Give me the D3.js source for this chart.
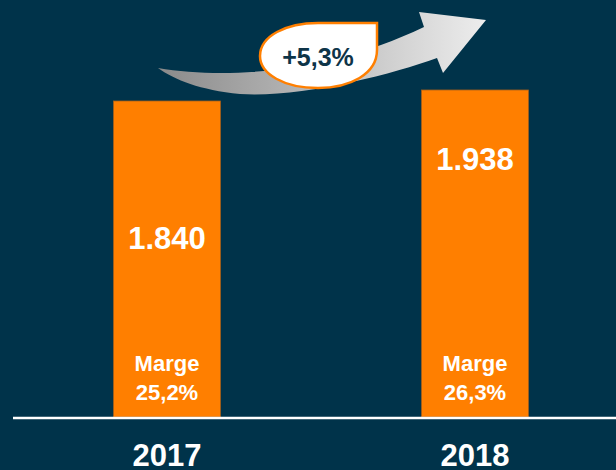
<!DOCTYPE html>
<html>
<head>
<meta charset="utf-8">
<script src="https://cdn.jsdelivr.net/npm/d3@7"></script>
<style>
  html, body { margin: 0; padding: 0; background: #00334a; }
  svg { display: block; }
  text { font-family: "Liberation Sans", Arial, sans-serif; font-weight: bold; }
</style>
</head>
<body>
<script>
var years = ["2017", "2018"];
var values = [1840, 1938];
var valueLabels = ["1.840", "1.938"];
var margins = ["25,2%", "26,3%"];
var growthLabel = "+5,3%";

var width = 616,
    height = 470,
    baseY = 417;

var orange = "#ff7f00";

var svg = d3.select("body").append("svg")
    .attr("width", width)
    .attr("height", height);

var defs = svg.append("defs");
var grad = defs.append("linearGradient")
    .attr("id", "arrowGrad")
    .attr("x1", "0%").attr("x2", "100%")
    .attr("y1", "0%").attr("y2", "0%");
grad.append("stop").attr("offset", "0%").attr("stop-color", "#8a8a8a");
grad.append("stop").attr("offset", "100%").attr("stop-color", "#ededed");

var x = d3.scaleBand()
    .domain(years)
    .range([13, 629])
    .paddingInner(0.653)
    .paddingOuter(0.3265);

// value axis of the original does not start at zero
var y = d3.scaleLinear()
    .domain([-975, 1938])
    .range([baseY, 90]);

// bars
svg.selectAll("rect.bar")
  .data(values)
  .enter().append("rect")
    .attr("class", "bar")
    .attr("x", function(d, i) { return x(years[i]); })
    .attr("y", function(d) { return y(d); })
    .attr("width", x.bandwidth())
    .attr("height", function(d) { return baseY - y(d); })
    .attr("fill", orange)
    .attr("stroke", "#a65f1a")
    .attr("stroke-width", 0.8);

// baseline
svg.append("line")
    .attr("x1", 13).attr("x2", width)
    .attr("y1", baseY + 1).attr("y2", baseY + 1)
    .attr("stroke", "#ffffff")
    .attr("stroke-width", 2.5);

var cx = function(i) { return x(years[i]) + x.bandwidth() / 2; };
var valueY = [249, 170];

svg.selectAll("text.val")
  .data(valueLabels)
  .enter().append("text")
    .attr("class", "val")
    .attr("x", function(d, i) { return cx(i); })
    .attr("y", function(d, i) { return valueY[i]; })
    .attr("text-anchor", "middle")
    .attr("fill", "#ffffff")
    .attr("font-size", 31)
    .text(function(d) { return d; });

svg.selectAll("text.marge")
  .data(margins)
  .enter().append("text")
    .attr("class", "marge")
    .attr("x", function(d, i) { return cx(i); })
    .attr("y", 371)
    .attr("text-anchor", "middle")
    .attr("fill", "#ffffff")
    .attr("font-size", 22)
    .text("Marge");

svg.selectAll("text.pct")
  .data(margins)
  .enter().append("text")
    .attr("class", "pct")
    .attr("x", function(d, i) { return cx(i); })
    .attr("y", 400)
    .attr("text-anchor", "middle")
    .attr("fill", "#ffffff")
    .attr("font-size", 22)
    .text(function(d) { return d; });

svg.selectAll("text.year")
  .data(years)
  .enter().append("text")
    .attr("class", "year")
    .attr("x", function(d, i) { return cx(i); })
    .attr("y", 466)
    .attr("text-anchor", "middle")
    .attr("fill", "#ffffff")
    .attr("font-size", 31)
    .text(function(d) { return d; });

// growth arrow
svg.append("path")
    .attr("d", "M158,68 C230,80 330,72 424,27 L419,12 L486,20 L443,73 L437,58 " +
               "C390,75 300,98 240,94 C200,90 175,80 158,68 Z")
    .attr("fill", "url(#arrowGrad)");

// bubble
svg.append("path")
    .attr("d", "M377,23 L377,50 C377,74 350,88 318,88 C284,88 260,74 260,56 " +
               "C260,36 286,23 318,23 Z")
    .attr("fill", "#ffffff")
    .attr("stroke", orange)
    .attr("stroke-width", 2.5);

svg.append("text")
    .attr("x", 318)
    .attr("y", 66)
    .attr("text-anchor", "middle")
    .attr("fill", "#0e3448")
    .attr("font-size", 25)
    .text(growthLabel);
</script>
</body>
</html>
